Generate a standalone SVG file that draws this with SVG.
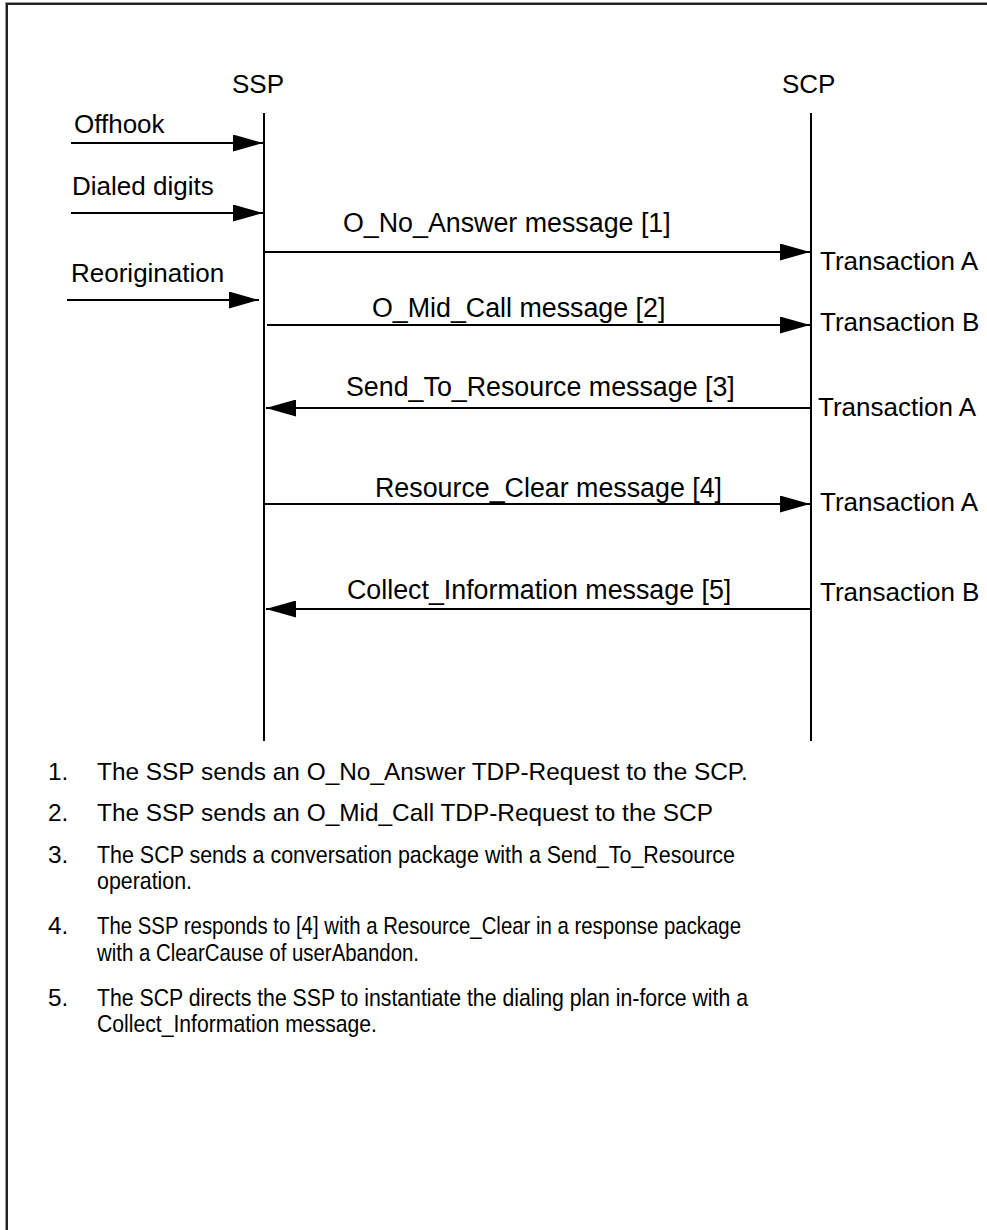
<svg xmlns="http://www.w3.org/2000/svg" width="987" height="1230" viewBox="0 0 987 1230">
  <style>
    .t { font-family: "Liberation Sans", Arial, sans-serif; font-size: 26px; fill: #000; }
    .m { font-family: "Liberation Sans", Arial, sans-serif; font-size: 26.8px; fill: #000; }
    .b { font-family: "Liberation Sans", Arial, sans-serif; font-size: 24.4px; fill: #000; }
    .life { stroke: #000; stroke-width: 2; fill: none; }
    .msg { stroke: #000; stroke-width: 2; fill: none; marker-end: url(#head); }
  </style>
  <defs>
    <marker id="head" markerUnits="userSpaceOnUse" markerWidth="30" markerHeight="17" refX="30" refY="8.5" orient="auto">
      <path d="M0,0 L30,8.5 L0,17 z" fill="#000"/>
    </marker>
  </defs>

  <rect width="987" height="1230" fill="#fff"/>

  <!-- page frame: top and left edges only -->
  <g id="frame">
    <path d="M5,2.5 H987 M5.5,2 V1230" stroke="#999" stroke-width="1" fill="none"/>
    <path d="M6,4 H987 M7,4 V1230" stroke="#222" stroke-width="2" fill="none"/>
  </g>

  <!-- lifelines -->
  <g id="ssp">
    <text class="t" x="232" y="93">SSP</text>
    <line class="life" x1="264" y1="113" x2="264" y2="741"/>
  </g>
  <g id="scp">
    <text class="t" x="782" y="93">SCP</text>
    <line class="life" x1="811" y1="113" x2="811" y2="741"/>
  </g>

  <!-- connectors -->
  <g id="connectors">
    <line class="msg" x1="71" y1="143" x2="263" y2="143"/>
    <line class="msg" x1="71" y1="213" x2="263" y2="213"/>
    <line class="msg" x1="67" y1="300" x2="259" y2="300"/>
    <line class="msg" x1="264" y1="252" x2="810" y2="252"/>
    <line class="msg" x1="267" y1="325" x2="810" y2="325"/>
    <line class="msg" x1="810" y1="408" x2="266" y2="408"/>
    <line class="msg" x1="265" y1="504" x2="810" y2="504"/>
    <line class="msg" x1="810" y1="609" x2="266" y2="609"/>
  </g>

  <!-- connector labels -->
  <g id="labels">
    <text class="t" x="74" y="133">Offhook</text>
    <text class="t" x="72" y="195">Dialed digits</text>
    <text class="t" x="71" y="282">Reorigination</text>
    <text class="m" x="343" y="232">O_No_Answer message [1]</text>
    <text class="m" x="372" y="317">O_Mid_Call message [2]</text>
    <text class="m" x="346" y="396">Send_To_Resource message [3]</text>
    <text class="m" x="375" y="497">Resource_Clear message [4]</text>
    <text class="m" x="347" y="599">Collect_Information message [5]</text>
    <text class="t" x="820" y="270">Transaction A</text>
    <text class="t" x="820" y="331">Transaction B</text>
    <text class="t" x="818" y="416">Transaction A</text>
    <text class="t" x="820" y="511">Transaction A</text>
    <text class="t" x="820" y="601">Transaction B</text>
  </g>

  <!-- numbered notes -->
  <g id="notes">
    <text class="b" x="48" y="780">1.</text>
    <text class="b" x="97" y="780">The SSP sends an O_No_Answer TDP-Request to the SCP.</text>
    <text class="b" x="48" y="821">2.</text>
    <text class="b" x="97" y="821">The SSP sends an O_Mid_Call TDP-Request to the SCP</text>
    <text class="b" x="48" y="863">3.</text>
    <text class="b" x="97" y="863" textLength="638" lengthAdjust="spacingAndGlyphs">The SCP sends a conversation package with a Send_To_Resource</text>
    <text class="b" x="97" y="889" textLength="95" lengthAdjust="spacingAndGlyphs">operation.</text>
    <text class="b" x="48" y="934">4.</text>
    <text class="b" x="97" y="934" textLength="644" lengthAdjust="spacingAndGlyphs">The SSP responds to [4] with a Resource_Clear in a response package</text>
    <text class="b" x="97" y="961" textLength="322" lengthAdjust="spacingAndGlyphs">with a ClearCause of userAbandon.</text>
    <text class="b" x="48" y="1006">5.</text>
    <text class="b" x="97" y="1006" textLength="651" lengthAdjust="spacingAndGlyphs">The SCP directs the SSP to instantiate the dialing plan in-force with a</text>
    <text class="b" x="97" y="1032" textLength="280" lengthAdjust="spacingAndGlyphs">Collect_Information message.</text>
  </g>
</svg>
